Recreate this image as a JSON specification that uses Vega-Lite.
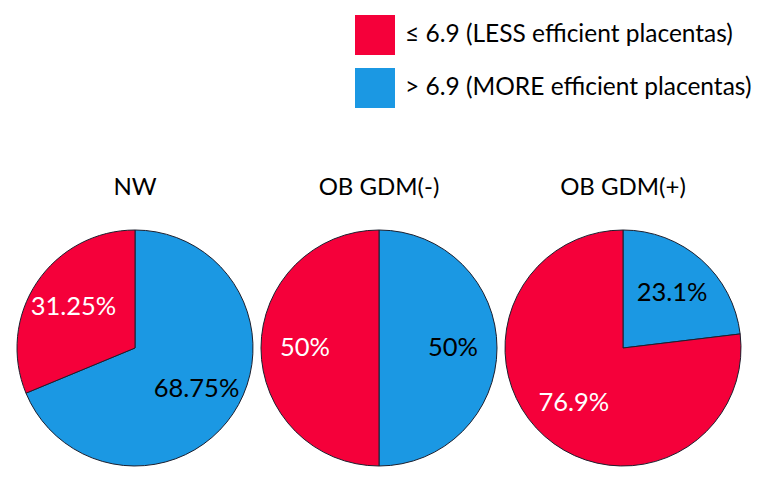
{
  "$schema": "https://vega.github.io/schema/vega-lite/v6.json",
  "background": "white",
  "padding": {"left": 15, "top": 15, "right": 5, "bottom": 5},
  "data": {"values": [
    {"group": "NW", "cat": "> 6.9 (MORE efficient placentas)", "value": 68.75, "label": "68.75%", "order": 1},
    {"group": "NW", "cat": "≤ 6.9 (LESS efficient placentas)", "value": 31.25, "label": "31.25%", "order": 2},
    {"group": "OB GDM(-)", "cat": "> 6.9 (MORE efficient placentas)", "value": 50, "label": "50%", "order": 1},
    {"group": "OB GDM(-)", "cat": "≤ 6.9 (LESS efficient placentas)", "value": 50, "label": "50%", "order": 2},
    {"group": "OB GDM(+)", "cat": "> 6.9 (MORE efficient placentas)", "value": 23.1, "label": "23.1%", "order": 1},
    {"group": "OB GDM(+)", "cat": "≤ 6.9 (LESS efficient placentas)", "value": 76.9, "label": "76.9%", "order": 2}
  ]},
  "facet": {
    "column": {
      "field": "group", "type": "nominal",
      "sort": ["NW", "OB GDM(-)", "OB GDM(+)"],
      "title": null,
      "header": {"labelFontSize": 24, "labelFont": "Lato", "labelColor": "black", "labelPadding": 28}
    }
  },
  "spacing": 4,
  "spec": {
    "width": 240,
    "height": 240,
    "layer": [
      {
        "mark": {"type": "arc", "outerRadius": 118, "stroke": "#1c1f2e", "strokeWidth": 1},
        "encoding": {
          "theta": {"field": "value", "type": "quantitative", "stack": true},
          "order": {"field": "order", "type": "quantitative"},
          "color": {
            "field": "cat", "type": "nominal",
            "scale": {"domain": ["≤ 6.9 (LESS efficient placentas)", "> 6.9 (MORE efficient placentas)"], "range": ["#f5003a", "#1b98e3"]},
            "legend": {
              "title": null, "orient": "none", "legendX": 340, "legendY": -213,
              "symbolType": "square", "symbolSize": 1600, "symbolStrokeWidth": 0,
              "labelFontSize": 24.5, "labelFont": "Lato", "labelColor": "black",
              "rowPadding": 13, "labelOffset": 10, "labelLimit": 500
            }
          }
        }
      },
      {
        "mark": {"type": "text", "radius": 74, "fontSize": 25.5, "font": "Lato"},
        "encoding": {
          "theta": {"field": "value", "type": "quantitative", "stack": true},
          "order": {"field": "order", "type": "quantitative"},
          "text": {"field": "label"},
          "color": {"condition": {"test": "datum.order == 2", "value": "white"}, "value": "black"}
        }
      }
    ]
  },
  "config": {"view": {"stroke": null}}
}
